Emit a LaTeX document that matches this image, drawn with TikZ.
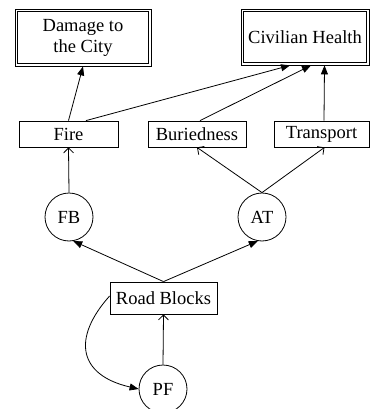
\documentclass[tikz,border=0pt]{standalone}
\usepackage{fontspec}
\setmainfont{Liberation Serif}
\usetikzlibrary{arrows.meta}
\begin{document}
\begin{tikzpicture}[x=1pt,y=-1pt,line width=0.8pt,
  every node/.style={font=\fontsize{18.5}{21}\selectfont, inner sep=0pt},
  box/.style={draw, rectangle, minimum width=#1, minimum height=26pt},
  dbox/.style={draw, rectangle, align=center},
  circ/.style={draw, circle, minimum size=48pt},
  tri/.style={-{Triangle[length=9pt,width=7pt]}},
  open/.style={-{Straight Barb[length=5pt,width=10pt]}}]
\useasboundingbox (0,0) rectangle (370,409);
\node[dbox, minimum width=136pt, minimum height=57pt] (damage) at (83,37.5) {Damage to\\the City};
\draw ([xshift=3pt,yshift=-3pt]damage.north west) rectangle ([xshift=-3pt,yshift=3pt]damage.south east);
\node[dbox, minimum width=128pt, minimum height=56pt] (civ) at (305,37) {Civilian Health};
\draw ([xshift=3pt,yshift=-3pt]civ.north west) rectangle ([xshift=-3pt,yshift=3pt]civ.south east);
\node[box=99pt] (fire) at (68.5,134) {Fire};
\node[box=98pt] (buried) at (197,134) {Buriedness};
\node[box=95pt] (transport) at (321.5,134) {Transport};
\node[circ] (fb) at (69,217) {FB};
\node[circ] (at) at (262,217) {AT};
\node[box=107pt, minimum height=32pt] (rb) at (163.5,298) {Road Blocks};
\node[circ] (pf) at (163,389) {PF};
\draw[tri] (fire.north) -- (damage.south);
\draw[tri] ([xshift=17.5pt]fire.north) -- ([xshift=-15pt]civ.south);
\draw[tri] ([xshift=3pt]buried.north) -- ([xshift=6pt]civ.south);
\draw[tri] ([xshift=2.5pt]transport.north) -- ([xshift=19.5pt]civ.south);
\draw[open] (fb.north) -- (fire.south);
\draw[open] (at.north) -- (buried.south);
\draw[open] (at.north) -- ([xshift=3pt]transport.south);
\draw[tri] (rb.north) -- (fb.-80);
\draw[tri] (rb.north) -- (at.-100);
\draw[open] (pf.north) -- (rb.south);
\draw[tri] ([yshift=2pt]rb.west) .. controls (72,338) and (78,375) .. (pf.west);
\end{tikzpicture}
\end{document}
